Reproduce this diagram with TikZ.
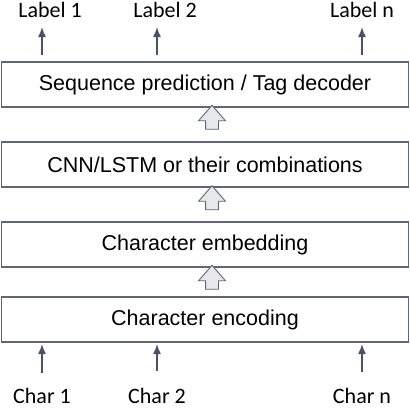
\documentclass[tikz,border=0pt]{standalone}
\usepackage{fontspec}
\setmainfont{Liberation Sans}
\newfontfamily\labelfont{Carlito}
\usepackage{xcolor}
\usepackage{tikz}
\usetikzlibrary{arrows.meta,shapes.arrows}

\definecolor{edgegray}{HTML}{4A5366}
\definecolor{boxgray}{HTML}{5F6777}
\definecolor{fillgray}{HTML}{E8E8EA}

\tikzset{
  layer/.style={draw=boxgray, line width=1.2pt, minimum width=407pt, minimum height=45pt,
    inner sep=0pt, font=\fontsize{21.5}{24}\selectfont},
  uparrow/.style={single arrow, draw=boxgray, fill=fillgray, line width=0.9pt, rotate=90,
    minimum height=24pt, inner xsep=0pt, inner ysep=6pt, single arrow head extend=7pt,
    single arrow tip angle=82},
  tag/.style={anchor=base, inner sep=0pt, font=\labelfont\fontsize{22}{24}\selectfont},
  io/.style={draw=edgegray, line width=1.4pt, -{Latex[length=10pt,width=8pt]}}
}

\begin{document}
\begin{tikzpicture}[x=1pt,y=-1pt]
      \useasboundingbox (0,0) rectangle (410,408);
      % layers, top to bottom
      \node[layer] (dec) at (205,84.5) {Sequence prediction / Tag decoder};
      \node[layer] (cnn) at (205,164.5) {CNN/LSTM or their combinations};
      \node[layer] (emb) at (205,244.5) {Character embedding};
      \node[layer] (enc) at (205,319.5) {Character encoding};
      % block arrows between layers
      \node[uparrow] (u1) at (212,121) {};
      \node[uparrow] (u2) at (212,201.5) {};
      \node[uparrow] (u3) at (212,281) {};
      % outputs
      \node[tag] (lab1) at (50,17) {Label 1};
      \node[tag] (lab2) at (165,17) {Label 2};
      \node[tag] (labn) at (362,17) {Label n};
      \coordinate (o1) at (42,55);  \coordinate (t1) at (42,27);
      \coordinate (o2) at (157,55); \coordinate (t2) at (157,27);
      \coordinate (on) at (362,55); \coordinate (tn) at (362,27);
      \draw[io] (o1) -- (t1);
      \draw[io] (o2) -- (t2);
      \draw[io] (on) -- (tn);
      % inputs
      \node[tag] (ch1) at (42,403) {Char 1};
      \node[tag] (ch2) at (157,403) {Char 2};
      \node[tag] (chn) at (362,403) {Char n};
      \coordinate (i1) at (42,373);  \coordinate (e1) at (42,344);
      \coordinate (i2) at (157,371); \coordinate (e2) at (157,344);
      \coordinate (in) at (362,372); \coordinate (en) at (362,344);
      \draw[io] (i1) -- (e1);
      \draw[io] (i2) -- (e2);
      \draw[io] (in) -- (en);
    \end{tikzpicture}
\end{document}
